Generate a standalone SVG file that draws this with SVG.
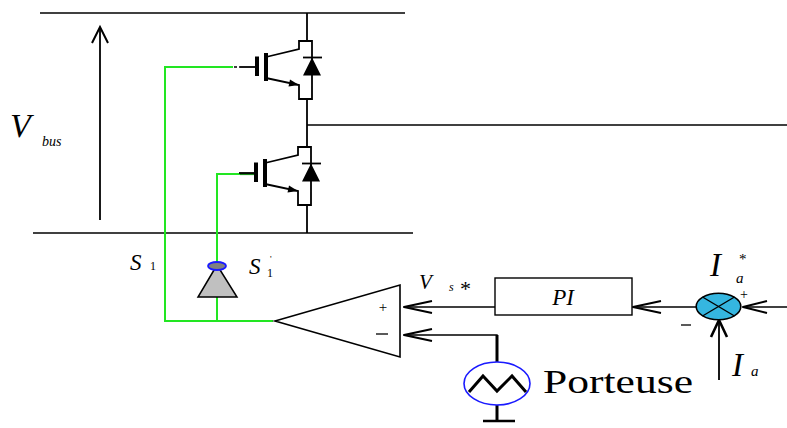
<svg xmlns="http://www.w3.org/2000/svg" width="787" height="428" viewBox="0 0 787 428">
<style>
.ln{stroke:#000;stroke-width:1.4;fill:none}
.th{stroke:#000;stroke-width:1.8;fill:none}
.gr{stroke:#22e622;stroke-width:2;fill:none}
.ah{stroke:#000;stroke-width:2;fill:none;stroke-linejoin:miter}
.it{font-family:"Liberation Serif",serif;font-style:italic;fill:#000}
.rm{font-family:"Liberation Serif",serif;fill:#000}
</style>
<defs>
<g id="igbt">
<line x1="240" y1="67" x2="257" y2="67" class="th"/>
<line x1="257" y1="56.5" x2="257" y2="76" stroke="#000" stroke-width="4"/>
<line x1="266" y1="53" x2="266" y2="81" stroke="#000" stroke-width="4"/>
<polyline points="266,57 299,49 299,41 312,41 312,99 299,99 299,85 266,78" class="th"/>
<polygon points="299,85 288.5,86.5 290,79.5" fill="#000"/>
<line x1="303" y1="57.5" x2="322" y2="57.5" class="th"/>
<polygon points="312,57.5 303,75.5 321,75.5" fill="#000"/>
</g>
</defs>

<g id="connectors">
<line x1="40" y1="13" x2="405" y2="13" class="ln"/>
<line x1="33" y1="233" x2="413" y2="233" class="ln"/>
<line x1="307" y1="13" x2="307" y2="41" class="th"/>
<line x1="307" y1="99" x2="307" y2="147" class="th"/>
<line x1="307" y1="205" x2="307" y2="233" class="th"/>
<line x1="307" y1="125" x2="787" y2="125" class="ln"/>
<line x1="100" y1="220" x2="100" y2="28" class="th"/>
<polyline points="92,43 100,27 108,43" class="ah"/>
<polyline points="233,67 165,67 165,321 273,321" class="gr"/>
<line x1="234" y1="67" x2="240" y2="67" stroke="#000" stroke-width="1.5" stroke-dasharray="3,2"/>
<polyline points="240,174 217,174 217,321" class="gr"/>
<line x1="240" y1="174" x2="254" y2="174" stroke="#1a8a1a" stroke-width="2.2"/>
<line x1="403" y1="307" x2="495" y2="307" class="ln"/>
<polyline points="432,301 404,307 432,313" class="ah"/>
<polyline points="497,362 497,335 403,335" class="ln"/>
<line x1="497" y1="335" x2="497" y2="362" stroke="#000" stroke-width="3"/>
<polyline points="432,329 404,335 432,341" class="ah"/>
<line x1="632" y1="307" x2="696" y2="307" class="ln"/>
<polyline points="661,301 633,307 661,313" class="ah"/>
<line x1="742" y1="307" x2="787" y2="307" class="ln"/>
<polyline points="767,301 743,307 767,313" class="ah"/>
<line x1="719" y1="380" x2="719" y2="321" class="th"/>
<polyline points="711,337 719,320 727,337" stroke="#000" stroke-width="2.6" fill="none"/>
<line x1="497" y1="405" x2="497" y2="421" stroke="#000" stroke-width="3"/>
<line x1="483" y1="421" x2="515" y2="421" stroke="#000" stroke-width="2.5"/>
</g>

<g id="igbt-top"><use href="#igbt"/></g>
<g id="igbt-bottom"><use href="#igbt" transform="translate(-1,106)"/></g>

<g id="vbus-label">
<text x="10" y="137" class="it" font-size="34">V</text>
<text x="42" y="146" class="it" font-size="14">bus</text>
</g>

<g id="s1-label">
<text x="130" y="270" class="it" font-size="23">S</text>
<text x="150" y="270" class="rm" font-size="12">1</text>
</g>

<g id="s1p-driver">
<polygon points="217,265 198,297 237,297" fill="#c0c0c0" stroke="#000" stroke-width="1.5"/>
<ellipse cx="217" cy="266" rx="9" ry="4" fill="#808080" stroke="#1a1aff" stroke-width="1.8"/>
<text x="249" y="274" class="it" font-size="23">S</text>
<text x="267" y="277" class="rm" font-size="12">1</text>
<text x="270" y="262" class="rm" font-size="9">'</text>
</g>

<g id="comparator">
<polygon points="275,321 400,285 400,357" fill="none" stroke="#000" stroke-width="1.6"/>
<text x="383" y="312" class="rm" font-size="15" text-anchor="middle">+</text>
<line x1="376" y1="334" x2="388" y2="334" stroke="#000" stroke-width="1.3"/>
</g>

<g id="vs-label">
<text x="419" y="289" class="it" font-size="21">V</text>
<text x="449" y="291" class="it" font-size="12">s</text>
<text x="460" y="296" class="rm" font-size="22">*</text>
</g>

<g id="pi">
<rect x="495" y="278" width="137" height="37" fill="#fff" stroke="#000" stroke-width="1.4"/>
<text x="563" y="305" class="it" font-size="23" text-anchor="middle">PI</text>
</g>

<g id="sum">
<ellipse cx="718.5" cy="306.5" rx="22.3" ry="13.3" fill="#35b6e0" stroke="#000" stroke-width="1.6"/>
<line x1="702.5" y1="297" x2="734.5" y2="316" class="ln"/>
<line x1="702.5" y1="316" x2="734.5" y2="297" class="ln"/>
<text x="744" y="299" class="rm" font-size="14" text-anchor="middle">+</text>
<line x1="681" y1="325" x2="691" y2="325" stroke="#000" stroke-width="1.3"/>
</g>

<g id="ia-star-label">
<text x="710" y="276" class="it" font-size="33">I</text>
<text x="736" y="283" class="it" font-size="15">a</text>
<text x="739" y="264" class="rm" font-size="15">*</text>
</g>

<g id="ia-label">
<text x="732" y="376" class="it" font-size="33">I</text>
<text x="751" y="376" class="it" font-size="15">a</text>
</g>

<g id="porteuse">
<ellipse cx="497" cy="383.5" rx="33" ry="21.5" fill="#fff" stroke="#1a1aff" stroke-width="1.6"/>
<polyline points="469,392 483,376 497,391 512,376 526,392" stroke="#000" stroke-width="3" fill="none"/>
<text x="543" y="393" class="rm" font-size="33" textLength="150" lengthAdjust="spacingAndGlyphs">Porteuse</text>
</g>
</svg>
